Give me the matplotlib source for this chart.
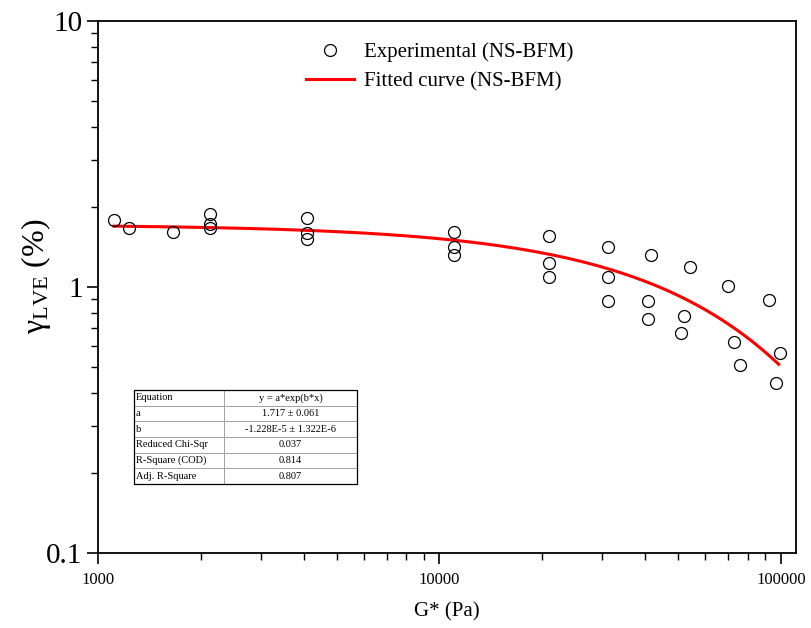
import numpy as np
import matplotlib
matplotlib.use("Agg")
import matplotlib.pyplot as plt
from matplotlib.patches import Rectangle

plt.rcParams['font.family'] = ['Liberation Serif', 'DejaVu Serif']
plt.rcParams['mathtext.fontset'] = 'custom'
plt.rcParams['mathtext.rm'] = 'Liberation Serif'
plt.rcParams['mathtext.it'] = 'Liberation Serif:italic'

# Experimental data: complex modulus G* (Pa) and linear viscoelastic strain limit (%)
g_star = [1114, 1232, 1658, 2128, 2128, 2128, 4093, 4093, 4093,
          11030, 11030, 11030, 20970, 20970, 20970,
          31190, 31190, 31190, 41530, 40870, 40870,
          54260, 52000, 50960, 70110, 72700, 75700,
          92000, 99100, 96700]
gamma_lve = [1.786, 1.667, 1.61, 1.88, 1.725, 1.667, 1.822, 1.60, 1.51,
             1.614, 1.41, 1.32, 1.56, 1.234, 1.088,
             1.418, 1.093, 0.888, 1.323, 0.888, 0.756,
             1.189, 0.778, 0.673, 1.011, 0.62, 0.51,
             0.891, 0.566, 0.435]

# Exponential fit parameters y = a*exp(b*x)
fit_a = 1.717
fit_b = -1.228e-5
fit_range = (1114, 98500)

table_rows = [
    ["Equation", "y = a*exp(b*x)"],
    ["a", "1.717 \u00b1 0.061"],
    ["b", "-1.228E-5 \u00b1 1.322E-6"],
    ["Reduced Chi-Sqr", "0.037"],
    ["R-Square (COD)", "0.814"],
    ["Adj. R-Square", "0.807"],
]

fig = plt.figure(figsize=(8.12, 6.28), dpi=100)
ax = fig.add_axes([98/812, 1-553/628, (796-98)/812, (553-21)/628])

xf = np.geomspace(fit_range[0], fit_range[1], 300)
yf = fit_a * np.exp(fit_b * xf)

ax.plot(g_star, gamma_lve, linestyle='none', marker='o', markersize=8.6,
        markerfacecolor='none', markeredgecolor='black', markeredgewidth=0.9,
        label='Experimental (NS-BFM)', zorder=3)
ax.plot(xf, yf, color='#ff0000', linewidth=2.2, label='Fitted curve (NS-BFM)', zorder=2)

ax.set_xscale('log')
ax.set_yscale('log')
ax.set_xlim(1000, 110700)
ax.set_ylim(0.1, 10)

ax.set_xticks([1000, 10000, 100000])
ax.set_xticklabels(['1000', '10000', '100000'], fontsize=12)
ax.set_yticks([0.1, 1, 10])
ax.set_yticklabels(['0.1', '1', '10'], fontsize=21)
ax.tick_params(axis='both', which='major', direction='out', length=8, width=1.2)
ax.tick_params(axis='both', which='minor', direction='out', length=5, width=1.0)
ax.tick_params(axis='x', which='major', pad=6)
ax.tick_params(axis='y', which='major', pad=3)
ax.xaxis.set_minor_formatter(matplotlib.ticker.NullFormatter())
ax.yaxis.set_minor_formatter(matplotlib.ticker.NullFormatter())
for s in ax.spines.values():
    s.set_linewidth(1.3)

ax.set_xlabel('G* (Pa)', fontsize=15, labelpad=10)
ax.set_ylabel(r'$\mathrm{\gamma}_{\mathrm{LVE}}$ (%)', fontsize=23)
ax.yaxis.set_label_coords(-0.064, 0.52)

leg = ax.legend(loc='upper center', bbox_to_anchor=(0.49, 0.995), frameon=False,
                fontsize=15, handlelength=2.3, handletextpad=0.5, labelspacing=0.45)

tbl = ax.table(cellText=table_rows, cellLoc='center', colWidths=[90, 133],
               bbox=[(134-98)/698, (553-484)/532, (357-134)/698, (484-390)/532])
tbl.auto_set_font_size(False)
tbl.set_fontsize(7.5)
for (r, c), cell in tbl.get_celld().items():
    cell.set_edgecolor('#9a9a9a')
    cell.set_linewidth(0.6)
    if c == 0:
        cell.get_text().set_ha('left')
        cell.PAD = 0.02
# Dark outer frame around the table
ax.add_patch(Rectangle(((134-98)/698, (553-484)/532), (357-134)/698, (484-390)/532,
                       transform=ax.transAxes, fill=False, edgecolor='black',
                       linewidth=0.9, zorder=5))

fig.savefig('out.png', dpi=100)
